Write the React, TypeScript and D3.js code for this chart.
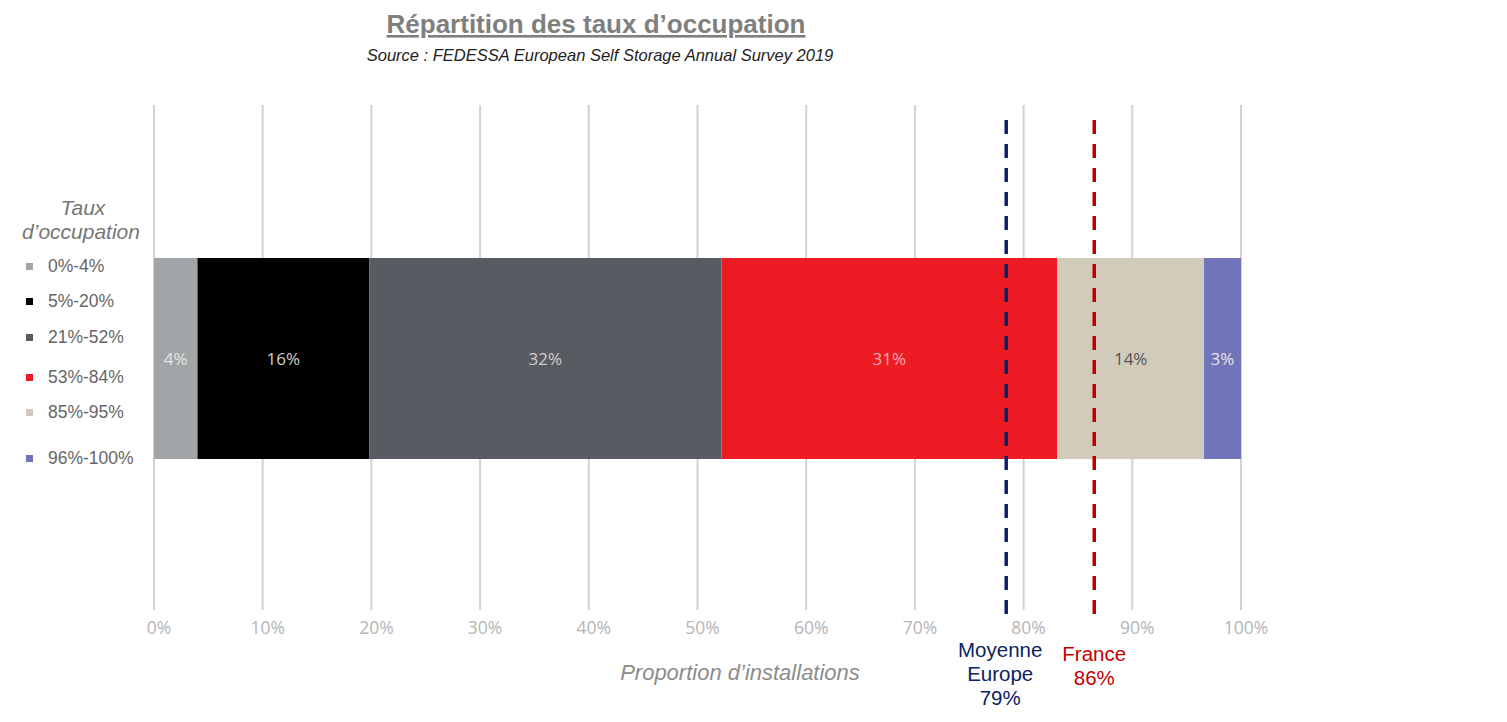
import React from 'react';
import * as d3 from 'd3';

// Occupancy-rate classes and share of facilities (%)
const classes = ['0%-4%', '5%-20%', '21%-52%', '53%-84%', '85%-95%', '96%-100%'];
const shares = [4.0, 15.8, 32.4, 30.9, 13.5, 3.4];
const colors = ['#a2a5a8', '#000000', '#595b63', '#ed1c24', '#d1cbbb', '#7174b8'];
const labelColors = ['#e4e4e4', '#cfcfcf', '#cfcfcf', '#f5a8b0', '#555555', '#e4e4e4'];

const ticks = [0, 10, 20, 30, 40, 50, 60, 70, 80, 90, 100];

// reference lines: average occupancy
const markerNames = [['Moyenne', 'Europe'], ['France']];
const markerPos = [78.4, 86.5];
const markerLabels = ['79%', '86%'];
const markerColors = ['#0b2260', '#c00000'];

const legendY = [266, 301, 337, 377, 412, 458];

export default function App() {
  const x = d3.scaleLinear().domain([0, 100]).range([154, 1241]);

  const starts = d3.cumsum([0, ...shares.slice(0, -1)]);
  const barY = 258;
  const barH = 201;

  const font = 'Liberation Sans, Arial, sans-serif';

  return (
    <svg width={1507} height={722} style={{ display: 'block', position: 'absolute', left: 0, top: 0 }}>
      <rect width={1507} height={722} fill="#fff" />

      {/* title */}
      <text x={596} y={33} textAnchor="middle" fontFamily={font} fontSize={26} fontWeight="bold"
        fill="#7f7f7f" textDecoration="underline">Répartition des taux d’occupation</text>
      <text x={600} y={61} textAnchor="middle" fontFamily={font} fontSize={16.5} fontStyle="italic"
        fill="#222">Source : FEDESSA European Self Storage Annual Survey 2019</text>

      {/* grid */}
      {ticks.map(t => (
        <line key={t} x1={x(t)} x2={x(t)} y1={105} y2={610} stroke="#d2d2d2" strokeWidth={2} />
      ))}
      {ticks.map(t => (
        <text key={'l' + t} x={x(t) + 5} y={634} textAnchor="middle" fontFamily="Open Sans, sans-serif"
          fontSize={17.5} fill="#b5b5b5">{t}%</text>
      ))}

      {/* stacked bar */}
      {shares.map((s, i) => (
        <g key={classes[i]}>
          <rect x={x(starts[i])} y={barY} width={x(starts[i] + s) - x(starts[i])} height={barH} fill={colors[i]} />
          <text x={(x(starts[i]) + x(starts[i] + s)) / 2} y={barY + barH / 2 + 6} textAnchor="middle"
            fontFamily="Open Sans, sans-serif" fontSize={17} fill={labelColors[i]}>{Math.round(s)}%</text>
        </g>
      ))}

      {/* reference lines */}
      {markerPos.map((m, i) => (
        <line key={'m' + i} x1={x(m)} x2={x(m)} y1={120} y2={618} stroke={markerColors[i]}
          strokeWidth={3.5} strokeDasharray="14 10" />
      ))}
      {markerPos.map((m, i) => {
        const lines = [...markerNames[i], markerLabels[i]];
        const y0 = i === 0 ? 657 : 661;
        return (
          <text key={'ml' + i} textAnchor="middle" fontFamily={font} fontSize={20.5} fill={markerColors[i]}>
            {lines.map((l, j) => (
              <tspan key={j} x={x(m) - (i === 0 ? 6 : 0)} y={y0 + j * 24}>{l}</tspan>
            ))}
          </text>
        );
      })}

      {/* axis title */}
      <text x={740} y={680} textAnchor="middle" fontFamily={font} fontSize={22} fontStyle="italic"
        fill="#8c8c8c">Proportion d’installations</text>

      {/* legend */}
      <rect x={18} y={193} width={134} height={50} fill="#fff" />
      <text x={83} y={215} textAnchor="middle" fontFamily={font} fontSize={21} fontStyle="italic" fill="#777">Taux</text>
      <text x={81} y={239} textAnchor="middle" fontFamily={font} fontSize={21} fontStyle="italic" fill="#777">d’occupation</text>
      {classes.map((c, i) => (
        <g key={'lg' + c}>
          <rect x={26} y={legendY[i] - 3} width={7} height={7} fill={colors[i]} />
          <text x={48} y={legendY[i] + 6} fontFamily={font} fontSize={17.5} fill="#666">{c}</text>
        </g>
      ))}
    </svg>
  );
}
